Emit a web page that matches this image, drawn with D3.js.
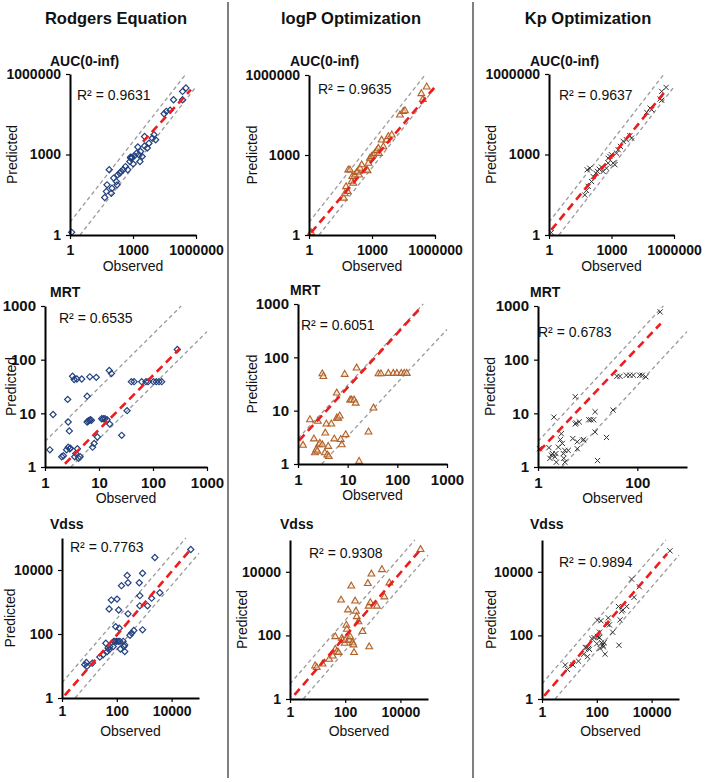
<!DOCTYPE html>
<html><head><meta charset="utf-8">
<script src="https://cdn.jsdelivr.net/npm/d3@7"></script>
<style>
body{margin:0;background:#fff}
svg{display:block}
text{font-family:"Liberation Sans",Arial,Helvetica,sans-serif;fill:#111}
</style>
</head><body>
<svg id="chart" width="706" height="782"></svg>
<script>
// ---------- data ----------
const methods = ["Rodgers Equation", "logP Optimization", "Kp Optimization"];
const parameters = ["AUC(0-inf)", "MRT", "Vdss"];
const r2Values = [[0.9631, 0.9635, 0.9637], [0.6535, 0.6051, 0.6783], [0.7763, 0.9308, 0.9894]];
const aucTicks = [1, 1000, 1000000];
const mrtTicks = [1, 10, 100, 1000];
const mrtKpXTicks = [1, 100];
const vdssTicks = [1, 100, 10000];
const foldLimits = [3, 1 / 3];

const aucRodgersObs = [1.2,45,54,74,58,100,93,120,162,186,174,234,270,340,437,562,708,813,912,1020,1175,1480,1700,1900,2140,2290,2750,3550,4790,5750,3550,8300,10000,12000,30200,38900,58900,85100,229000,229000,331000,794,851,759];
const aucRodgersPred = [1.26,25,42,270,74,55,36,132,98,174,74,200,234,270,355,270,550,724,794,447,891,1120,1900,977,550,1290,851,2090,1740,2630,4680,4070,5500,3550,33100,40700,44700,110000,110000,224000,302000,759,741,794];
const aucLogPObs = [1.26,45,51,58,74,89,69,107,115,129,155,186,209,240,269,324,562,676,794,955,1150,617,1380,1660,2000,2140,2880,3470,5010,6030,8710,21400,30900,37200,224000,263000,400000];
const aucLogPPred = [1.23,24,35,65,275,275,43,100,155,87,178,219,240,178,316,427,275,490,759,871,1000,257,1150,1450,1780,1150,3630,2040,3630,4900,5620,31600,42700,45700,200000,120000,355000];
const aucKpObs = [1.29,52,63,76,91,68,110,132,178,214,257,331,398,575,692,832,1000,692,1200,1740,2090,1450,2690,3630,5250,7590,9120,49000,70800,85100,214000,257000,257000,417000];
const aucKpPred = [1.23,31,46,65,309,269,98,151,200,234,282,339,234,309,724,851,977,479,479,1120,1510,417,2000,3090,3550,5010,4070,37200,53700,46800,117000,224000,105000,316000];

const mrtRodgersObs = [1.23,1.41,2.04,2.19,2.51,2.63,2.69,2.82,2.69,2.88,2.95,3.24,3.47,3.55,3.72,3.89,3.98,4.17,4.47,4.79,6.03,6.03,6.31,6.6,6.76,6.92,7.24,7.59,8.13,8.9,9.33,11.2,12,12.9,14.1,15.5,15.8,17,26.3,33.1,39.8,44.7,61.7,74.1,81.3,102,115,129,145,282];
const mrtRodgersPred = [2.09,9.5,1.55,1.62,2.09,18.2,6.9,4.7,2.34,2.19,2.24,49,42.7,1.55,1.78,43.7,2.19,1.45,1.55,43.7,20.9,6.9,7.2,7.4,47.9,7.6,7.4,2.34,2.75,46.8,3.63,7.94,7.94,7.94,7.59,63,6.3,55,3.89,11.2,38.9,38.9,38.9,38.9,38.9,38.9,38.9,38.9,38.9,155];
const mrtLogPObs = [1.26,1.74,2.09,2.19,2.34,2.45,2.51,2.63,2.75,3.09,3.24,3.09,3.47,3.55,3.72,3.89,4.07,4.17,4.68,5.37,6.03,6.03,6.46,6.92,7.24,7.59,8.71,9.12,11.2,12,13.5,14.5,15.1,17,26.3,33.1,41.7,46.8,66,83,98,120,138,155];
const mrtLogPPred = [2.24,6.76,2.95,1.62,1.86,1.74,6.31,2.29,2.45,49,43.7,2.29,1.62,3.8,5.62,1.48,2.14,1.38,5.62,2.95,21.4,7.24,7.24,7.94,2.88,2.29,47.9,3.55,15.8,15.8,15.8,13.8,63,1.12,3.98,11.2,49,49,50,50,50,50,50,50];
const mrtKpObs = [1.07,1.66,1.74,1.86,1.95,2.09,2.19,2.29,2.34,2.57,2.82,2.95,3.09,3.24,3.31,3.47,3.47,4.07,5.01,5.62,5.62,5.89,6.17,6.17,6.76,7.94,8.32,10.5,11.5,13.2,14.1,14.1,15.8,24,32.4,38.9,44.7,60.3,70.8,83.2,112,126,148,288];
const mrtKpPred = [2.19,2.29,1.45,1.66,1.78,8.5,1.55,1.78,1.23,2.34,3.24,4.17,2.75,1.78,1.45,1.23,2.04,2.04,3.39,20.4,6.31,6.61,2.95,2.19,6.92,3.16,3.24,7.59,7.59,7.59,10.7,4.47,1.32,3.55,11.5,49,49,51.3,51.3,51.3,51.3,51.3,47.9,776];

const vdssRodgersObs = [6.76,8.13,7.76,12.9,24,31.6,39.8,44.7,47.9,52.5,55,52.5,63,74,77.6,85.1,91.2,97.7,102,112,117,123,129,135,148,182,195,170,195,240,257,257,302,347,417,661,692,692,871,871,1320,1860,2450,3720,50100];
const vdssRodgersPred = [11,9.77,12.9,12.3,19,22.4,51.3,28.2,36.3,32.4,40.7,603,1150,40.7,58.9,58.9,170,58.9,1230,58.9,562,151,58.9,33.9,3240,40.7,45.7,58.9,28.2,6760,3980,427,91.2,107,129,3980,1580,759,7940,135,759,1320,24500,1950,43700];
const vdssLogPObs = [8.13,9.33,15.1,26.3,35.5,43.7,50.1,57.5,43.7,70.8,75.9,79.4,95.5,100,110,115,126,132,145,151,166,186,200,209,229,245,263,302,427,661,708,741,891,813,1410,2140,2630,3980,53700];
const vdssLogPPred = [11,9.77,12.6,17.8,22.4,36.3,30.9,28.8,91.2,1290,81.3,70.8,56.2,70.8,209,155,631,70.8,70.8,91.2,3550,58.9,50.1,28.8,1200,575,389,269,132,4270,832,43.7,8510,1070,832,11700,1620,4470,50100];
const vdssKpObs = [7.08,8.51,13.5,21.4,33.1,38,43.7,45.7,50.1,53.7,66.1,79.4,100,105,105,115,126,126,132,141,151,166,174,186,200,245,263,288,380,617,646,708,813,891,1230,1860,2290,3550,46800];
const vdssKpPred = [11.7,8.51,11.7,15.5,25.7,41.7,41.7,21.4,38.9,36.3,79.4,85.1,55,302,93.3,89.1,126,85.1,38.9,288,58.9,49,43.7,58.9,25.7,224,355,214,126,813,49,309,575,631,813,5890,1580,3390,45700];

// trendline end points (observed, predicted)
const trendObs = [[3000, 575000], [1.26, 933000], [1.29, 447000],
                  [2.34, 316], [1.05, 288], [1.07, 295],
                  [1.26, 46800], [1.45, 53700], [1.2, 37000]];
const trendPred = [[3000, 263000], [1.23, 339000], [1.55, 263000],
                   [1.15, 162], [2.75, 832], [2.0, 468],
                   [1.2, 41700], [1.35, 50100], [1.26, 37000]];

// ---------- layout (pixel geometry, not data) ----------
const layout = [
  {x0:70, x1:196, y0:235, y1:74, tx:50, ty:66, rx:77, ry:100, px:17, oy:271, fs:14},
  {x0:309,x1:435, y0:235, y1:75, tx:290,ty:66, rx:318,ry:94, px:257,oy:271, fs:14},
  {x0:549,x1:674, y0:235, y1:74, tx:530,ty:66, rx:559,ry:100, px:496,oy:271, fs:14},
  {x0:45, x1:207, y0:467, y1:306, tx:50, ty:297, rx:59, ry:323, px:16, oy:503, fs:15},
  {x0:298,x1:447, y0:464, y1:304, tx:290,ty:295, rx:301,ry:330, px:257,oy:500, fs:15},
  {x0:538,x1:687, y0:467, y1:306, tx:530,ty:297, rx:538,ry:337, px:495,oy:503, fs:15},
  {x0:62, x1:199, y0:698, y1:538, tx:50, ty:529, rx:70, ry:552, px:15, oy:736, fs:14},
  {x0:290,x1:428, y0:699, y1:540, tx:280,ty:529, rx:309,ry:558, px:247,oy:736, fs:14},
  {x0:542,x1:679, y0:699, y1:540, tx:530,ty:529, rx:559,ry:567, px:496,oy:736, fs:14}
];
const colTitleX = [116, 351, 588];
const dividerX = [228, 473];

const obsSets = [[aucRodgersObs, aucLogPObs, aucKpObs],[mrtRodgersObs, mrtLogPObs, mrtKpObs],[vdssRodgersObs, vdssLogPObs, vdssKpObs]];
const predSets = [[aucRodgersPred, aucLogPPred, aucKpPred],[mrtRodgersPred, mrtLogPPred, mrtKpPred],[vdssRodgersPred, vdssLogPPred, vdssKpPred]];
const domains = [[1, 1000000], [1, 1000], [1, 100000]];
const xTickSets = [[aucTicks, aucTicks, aucTicks],[mrtTicks, mrtTicks, mrtKpXTicks],[vdssTicks, vdssTicks, vdssTicks]];
const yTickSets = [aucTicks, mrtTicks, vdssTicks];

const markerColors = ["#24427f", "#b0622a", "#333333"];

const svg = d3.select("#chart");

methods.forEach((m, i) => {
  svg.append("text").attr("x", colTitleX[i]).attr("y", 24).attr("text-anchor", "middle")
    .attr("font-size", 16.5).attr("font-weight", "bold").text(m);
});
dividerX.forEach(x => {
  svg.append("line").attr("x1", x).attr("x2", x).attr("y1", 2).attr("y2", 778)
    .attr("stroke", "#555").attr("stroke-width", 1.5);
});

const fmt = d3.format("d");

for (let r = 0; r < 3; r++) {
  for (let c = 0; c < 3; c++) {
    const idx = r * 3 + c;
    const L = layout[idx];
    const dom = domains[r];
    const x = d3.scaleLog().domain(dom).range([L.x0, L.x1]);
    const y = d3.scaleLog().domain(dom).range([L.y0, L.y1]);
    const g = svg.append("g");

    g.append("text").attr("x", L.tx).attr("y", L.ty).attr("font-size", 14)
      .attr("font-weight", "bold").text(parameters[r]);

    foldLimits.forEach(k => {
      const xs = Math.max(dom[0], dom[0] / k);
      const xe = Math.min(dom[1], dom[1] / k);
      g.append("line")
        .attr("x1", x(xs)).attr("y1", y(xs * k))
        .attr("x2", x(xe)).attr("y2", y(xe * k))
        .attr("stroke", "#9a9a9a").attr("stroke-width", 1.3)
        .attr("stroke-dasharray", "4,3");
    });

    const obs = obsSets[r][c], pred = predSets[r][c];
    const pts = obs.map((o, i) => [o, pred[i]]);
    const col = markerColors[c];
    const mk = g.append("g");
    if (c === 0) {
      mk.selectAll("path").data(pts).join("path")
        .attr("d", d3.symbol(d3.symbolSquare, 19)())
        .attr("transform", d => `translate(${x(d[0])},${y(d[1])}) rotate(45)`)
        .attr("fill", "none").attr("stroke", col).attr("stroke-width", 1.2);
    } else if (c === 1) {
      mk.selectAll("path").data(pts).join("path")
        .attr("d", d3.symbol(d3.symbolTriangle, 20)())
        .attr("transform", d => `translate(${x(d[0])},${y(d[1])})`)
        .attr("fill", "#f6dcc4").attr("fill-opacity", 0.5)
        .attr("stroke", col).attr("stroke-width", 1.1);
    } else {
      mk.selectAll("path").data(pts).join("path")
        .attr("d", "M-2.6,-2.6L2.6,2.6M-2.6,2.6L2.6,-2.6")
        .attr("transform", d => `translate(${x(d[0])},${y(d[1])})`)
        .attr("fill", "none").attr("stroke", col).attr("stroke-width", 1);
    }

    const tO = trendObs[idx], tP = trendPred[idx];
    g.append("line")
      .attr("x1", x(tO[0])).attr("y1", y(tP[0]))
      .attr("x2", x(tO[1])).attr("y2", y(tP[1]))
      .attr("stroke", "#ee1c1c").attr("stroke-width", 2.6)
      .attr("stroke-dasharray", "8,5");

    const padX = r === 2 ? 4 : 6;
    const xa = g.append("g").attr("transform", `translate(0,${L.y0})`)
      .call(d3.axisBottom(x).tickValues(xTickSets[r][c]).tickFormat(fmt).tickSize(4).tickSizeOuter(0).tickPadding(padX));
    const ya = g.append("g").attr("transform", `translate(${L.x0},0)`)
      .call(d3.axisLeft(y).tickValues(yTickSets[r]).tickFormat(fmt).tickSize(4).tickSizeOuter(0).tickPadding(5));
    [xa, ya].forEach(a => {
      a.select(".domain").attr("stroke", "#000").attr("stroke-width", 2);
      a.selectAll(".tick line").attr("stroke", "#000").attr("stroke-width", 1.2);
      a.selectAll(".tick text").attr("font-size", L.fs).attr("font-weight", "bold")
        .attr("font-family", '"Liberation Sans",Arial,sans-serif').attr("fill", "#111");
    });

    g.append("text").attr("x", L.rx).attr("y", L.ry).attr("font-size", 14)
      .text("R² = " + r2Values[r][c].toFixed(4));

    g.append("text").attr("x", (L.x0 + L.x1) / 2).attr("y", L.oy).attr("text-anchor", "middle")
      .attr("font-size", 14).text("Observed");
    g.append("text").attr("transform", `translate(${L.px},${(L.y0 + L.y1) / 2}) rotate(-90)`)
      .attr("text-anchor", "middle").attr("font-size", 14).text("Predicted");
  }
}
</script>
</body></html>
